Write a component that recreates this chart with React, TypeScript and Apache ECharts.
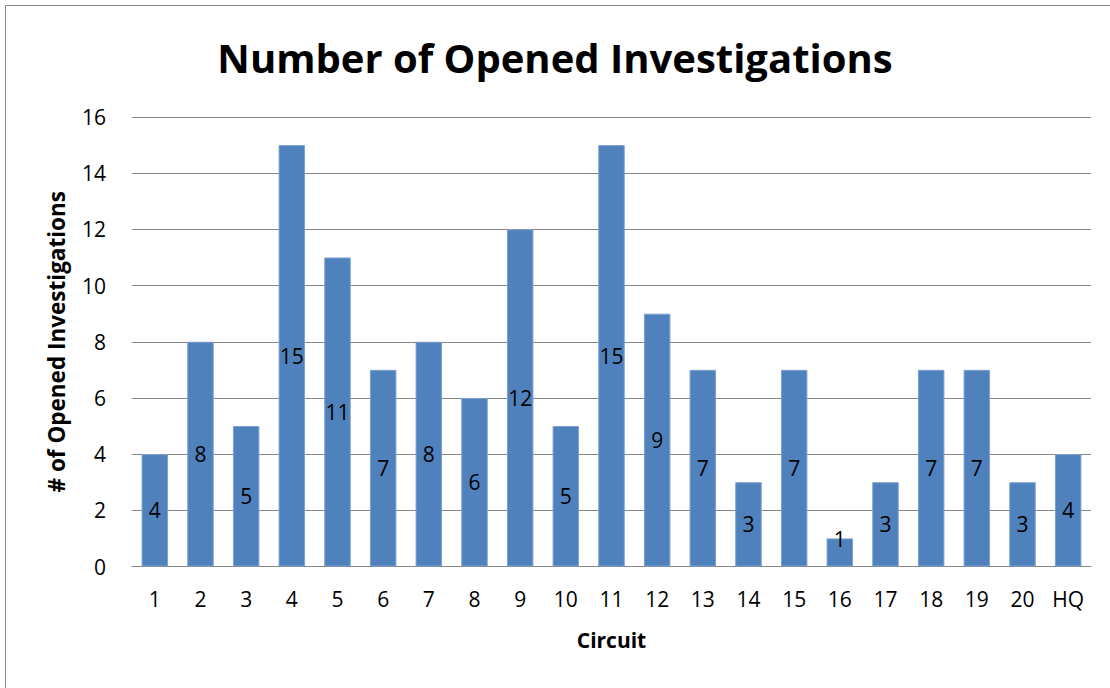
import React, { useEffect, useRef } from "react";
import * as echarts from "echarts";

const categories = ["1", "2", "3", "4", "5", "6", "7", "8", "9", "10", "11", "12", "13", "14", "15", "16", "17", "18", "19", "20", "HQ"];
const values = [4, 8, 5, 15, 11, 7, 8, 6, 12, 5, 15, 9, 7, 3, 7, 1, 3, 7, 7, 3, 4];

const FONT = "'Open Sans', Lato, sans-serif";

export default function App() {
  const ref = useRef<HTMLDivElement>(null);
  useEffect(() => {
    if (!ref.current) return;
    const chart = echarts.init(ref.current, null, { renderer: "svg" });
    chart.setOption({
      animation: false,
      backgroundColor: "#ffffff",
      textStyle: { fontFamily: FONT },
      title: {
        text: "Number of Opened Investigations",
        left: "center",
        top: 32,
        textStyle: { fontFamily: FONT, fontSize: 40, fontWeight: "bold", color: "#000" },
      },
      graphic: [
        {
          type: "rect",
          shape: { x: 5.5, y: 5.5, width: 1200, height: 800 },
          style: { fill: "none", stroke: "#868686", lineWidth: 1 },
          silent: true,
        },
      ],
      grid: { left: 132, right: 19, top: 117, bottom: 121.5, containLabel: false },
      xAxis: {
        type: "category",
        data: categories,
        name: "Circuit",
        nameLocation: "middle",
        nameGap: 63,
        nameTextStyle: { fontFamily: FONT, fontSize: 21, fontWeight: "bold", color: "#000" },
        axisLine: { show: true, lineStyle: { color: "#868686", width: 1 } },
        axisTick: { show: false },
        axisLabel: { fontFamily: FONT, fontSize: 21, color: "#000", margin: 22 },
      },
      yAxis: {
        type: "value",
        min: 0,
        max: 16,
        interval: 2,
        name: "# of Opened Investigations",
        nameLocation: "middle",
        nameGap: 64,
        nameRotate: 90,
        nameTextStyle: { fontFamily: FONT, fontSize: 22.5, fontWeight: "bold", color: "#000" },
        axisLine: { show: false },
        axisTick: { show: false },
        axisLabel: { fontFamily: FONT, fontSize: 21, color: "#000", margin: 26 },
        splitLine: { show: true, lineStyle: { color: "#868686", width: 1 } },
      },
      series: [
        {
          type: "bar",
          data: values.map((v) => ({
            value: v,
            label: v < 2 ? { offset: [0, -13] } : undefined,
          })),
          barCategoryGap: "42%",
          itemStyle: { color: "#4F81BD", borderColor: "#7da0cf", borderWidth: 1 },
          label: {
            show: true,
            position: "inside",
            fontFamily: FONT,
            fontSize: 21,
            color: "#000",
          },
        },
      ],
    });
    return () => chart.dispose();
  }, []);
  return (
    <div
      ref={ref}
      style={{ position: "absolute", left: 0, top: 0, width: 1110, height: 688 }}
    />
  );
}
